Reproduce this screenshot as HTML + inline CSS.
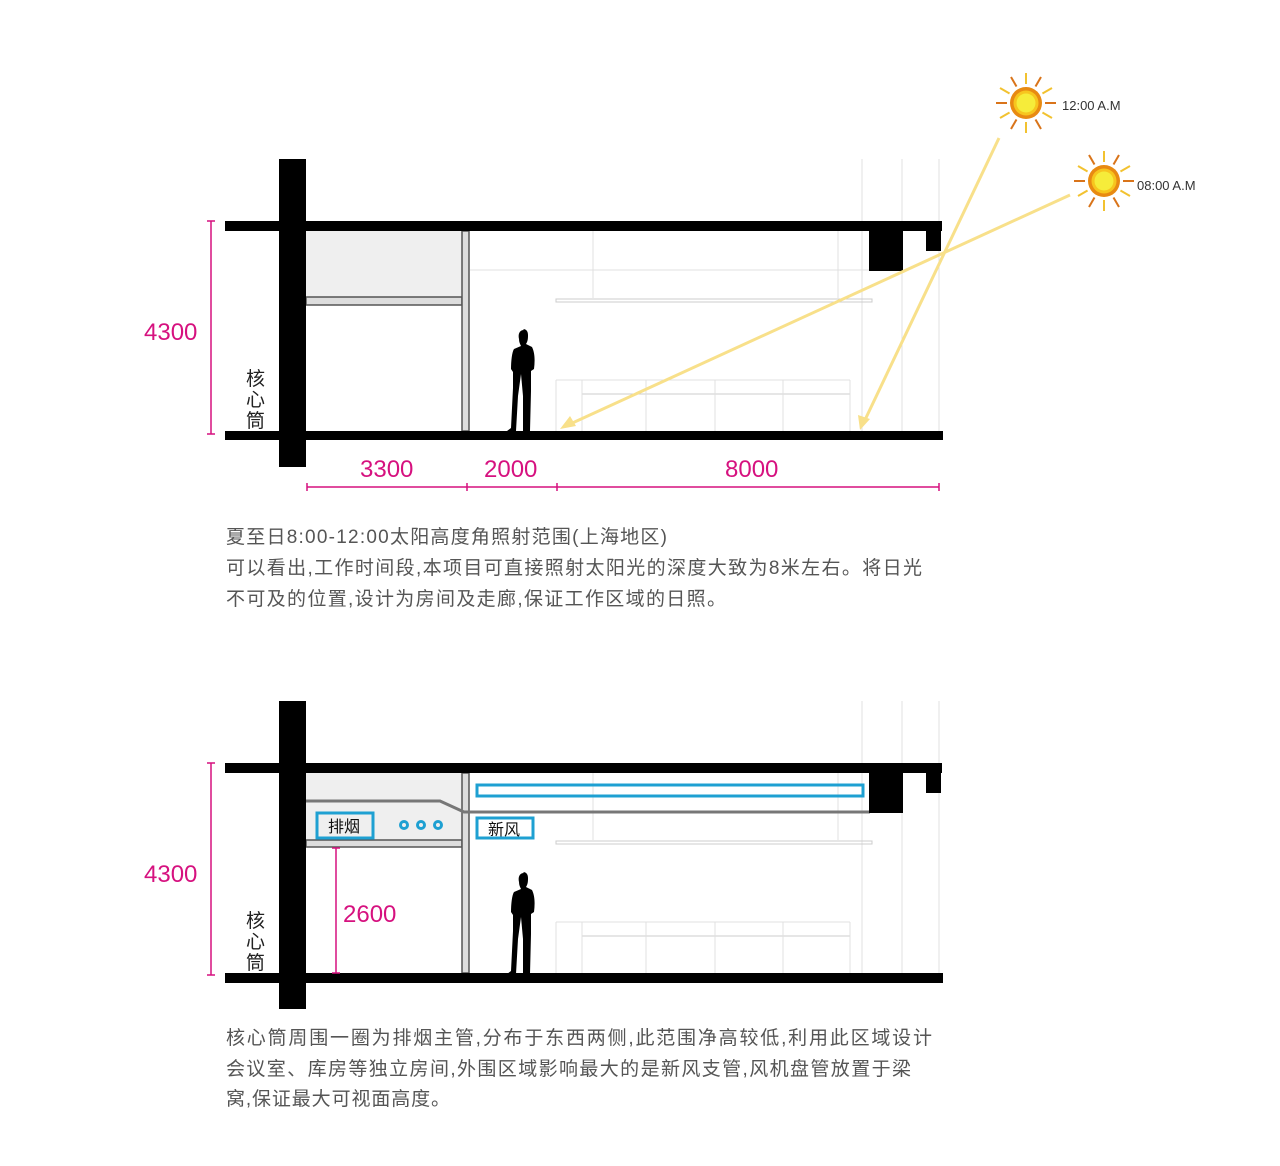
<!DOCTYPE html>
<html><head><meta charset="utf-8"><style>
html,body{margin:0;padding:0;background:#fff;width:1280px;height:1166px;overflow:hidden}
svg{display:block}
.t{font-family:"Liberation Sans","Noto Sans CJK SC",sans-serif}
</style></head><body>
<svg width="1280" height="1166" viewBox="0 0 1280 1166" xmlns="http://www.w3.org/2000/svg">
<defs>
<g id="ray"><line x1="0" y1="-19" x2="0" y2="-30" stroke-width="2"/></g>
<g id="sun">
<g stroke="#f2c230"><use href="#ray"/><use href="#ray" transform="rotate(60)"/><use href="#ray" transform="rotate(120)"/><use href="#ray" transform="rotate(180)"/><use href="#ray" transform="rotate(240)"/><use href="#ray" transform="rotate(300)"/></g>
<g stroke="#d9741a"><use href="#ray" transform="rotate(30)"/><use href="#ray" transform="rotate(90)"/><use href="#ray" transform="rotate(150)"/><use href="#ray" transform="rotate(210)"/><use href="#ray" transform="rotate(270)"/><use href="#ray" transform="rotate(330)"/></g>
<circle r="16" fill="#e88a12"/><circle r="12.5" fill="#f7c51e"/><circle r="9.5" fill="#f6ec3a"/>
</g>
<g id="person"><path d="M524,330 c-5,0 -6,5 -5,9 c0,3 1,5 2,7 l-7,3 c-2,3 -3,12 -3,20 l2,3 l0,16 l-2,40 l-4,3 l9,0 l2,-35 l3,-22 l2,22 l0,35 l7,0 l1,-40 l0,-20 l3,-2 c1,-8 1,-16 -2,-22 l-6,-3 c2,-3 2,-6 2,-9 c0,-4 -2,-6 -5,-6z" fill="#000"/></g>
<g id="sketch" stroke="#e0e0e0" fill="none" stroke-width="1">
<line x1="862" y1="159" x2="862" y2="431"/><line x1="902" y1="159" x2="902" y2="431"/><line x1="939" y1="159" x2="939" y2="431"/>
<line x1="470" y1="270" x2="870" y2="270"/><line x1="593" y1="231" x2="593" y2="298"/><line x1="838" y1="231" x2="838" y2="298"/>
<rect x="556" y="299" width="316" height="3" stroke="#ccc"/>
<line x1="556" y1="380" x2="850" y2="380"/><line x1="556" y1="380" x2="556" y2="431"/><line x1="582" y1="394" x2="850" y2="394" stroke="#ccc"/>
<line x1="582" y1="380" x2="582" y2="431"/><line x1="646" y1="380" x2="646" y2="431"/><line x1="715" y1="380" x2="715" y2="431"/><line x1="783" y1="380" x2="783" y2="431"/><line x1="850" y1="380" x2="850" y2="431"/>
</g>
</defs>

<use href="#sketch"/>
<rect x="306" y="231" width="156" height="66" fill="#efefef"/>
<rect x="306" y="297" width="156" height="8" fill="#ddd" stroke="#555" stroke-width="1.5"/>
<rect x="462" y="231" width="7" height="200" fill="#ddd" stroke="#555" stroke-width="1.5"/>
<rect x="225" y="221" width="717" height="10" fill="#000"/>
<rect x="225" y="431" width="718" height="9" fill="#000"/>
<rect x="279" y="159" width="27" height="308" fill="#000"/>
<rect x="869" y="231" width="34" height="40" fill="#000"/>
<rect x="926" y="231" width="15" height="20" fill="#000"/>
<use href="#person"/>
<g stroke="#f8e08a" stroke-width="3" fill="none">
<line x1="999" y1="138" x2="864" y2="422"/><line x1="1070" y1="195" x2="568" y2="425"/>
</g>
<polygon points="860,430 858,415 870,419" fill="#f8e08a"/>
<polygon points="560,429 570,416 576,426" fill="#f8e08a"/>
<use href="#sun" transform="translate(1026,103)"/>
<use href="#sun" transform="translate(1104,181)"/>
<text class="t" x="1062" y="110" font-size="13" fill="#333">12:00 A.M</text>
<text class="t" x="1137" y="190" font-size="13" fill="#333">08:00 A.M</text>
<g stroke="#d6117f" stroke-width="1.5">
<line x1="211" y1="221" x2="211" y2="434"/><line x1="207" y1="221" x2="215" y2="221"/><line x1="207" y1="434" x2="215" y2="434"/>
<line x1="307" y1="487" x2="939" y2="487"/>
<line x1="307" y1="483" x2="307" y2="491"/><line x1="467" y1="483" x2="467" y2="491"/><line x1="557" y1="483" x2="557" y2="491"/><line x1="939" y1="483" x2="939" y2="491"/>
</g>
<g class="t" fill="#d6117f" font-size="24">
<text x="144" y="340">4300</text>
<text x="360" y="477">3300</text><text x="484" y="477">2000</text><text x="725" y="477">8000</text>
</g>
<g class="t" font-size="19" fill="#222"><text x="246" y="385">核</text><text x="246" y="406">心</text><text x="246" y="427">筒</text></g>
<g class="t" font-size="19" fill="#555">
<text x="226" y="543" textLength="441" lengthAdjust="spacing">夏至日8:00-12:00太阳高度角照射范围(上海地区)</text>
<text x="226" y="574" textLength="696" lengthAdjust="spacing">可以看出,工作时间段,本项目可直接照射太阳光的深度大致为8米左右。将日光</text>
<text x="226" y="605" textLength="500" lengthAdjust="spacing">不可及的位置,设计为房间及走廊,保证工作区域的日照。</text>
</g>

<use href="#sketch" transform="translate(0,542)"/>
<rect x="306" y="773" width="156" height="67" fill="#efefef"/>
<rect x="306" y="840" width="156" height="7" fill="#ddd" stroke="#555" stroke-width="1.5"/>
<rect x="462" y="773" width="7" height="200" fill="#ddd" stroke="#555" stroke-width="1.5"/>
<polyline points="306,801 440,801 464,812 870,812" fill="none" stroke="#777" stroke-width="3"/>
<rect x="225" y="763" width="717" height="10" fill="#000"/>
<rect x="225" y="973" width="718" height="10" fill="#000"/>
<rect x="279" y="701" width="27" height="308" fill="#000"/>
<rect x="869" y="773" width="34" height="40" fill="#000"/>
<rect x="926" y="773" width="15" height="20" fill="#000"/>
<use href="#person" transform="translate(0,543)"/>
<g fill="none" stroke="#1ea0d2" stroke-width="3">
<rect x="317" y="813" width="56" height="25"/>
<rect x="477" y="785" width="386" height="11"/>
<rect x="477" y="818" width="56" height="20"/>
<circle cx="404" cy="825" r="3.5"/><circle cx="421" cy="825" r="3.5"/><circle cx="438" cy="825" r="3.5"/>
</g>
<g class="t" font-size="16" fill="#111"><text x="328" y="832">排烟</text><text x="488" y="835">新风</text></g>
<g stroke="#d6117f" stroke-width="1.5">
<line x1="211" y1="763" x2="211" y2="975"/><line x1="207" y1="763" x2="215" y2="763"/><line x1="207" y1="975" x2="215" y2="975"/>
<line x1="336" y1="848" x2="336" y2="973"/><line x1="332" y1="848" x2="340" y2="848"/><line x1="332" y1="973" x2="340" y2="973"/>
</g>
<g class="t" fill="#d6117f" font-size="24"><text x="144" y="882">4300</text><text x="343" y="922">2600</text></g>
<g class="t" font-size="19" fill="#222"><text x="246" y="927">核</text><text x="246" y="948">心</text><text x="246" y="969">筒</text></g>
<g class="t" font-size="19" fill="#555">
<text x="226" y="1044" textLength="706" lengthAdjust="spacing">核心筒周围一圈为排烟主管,分布于东西两侧,此范围净高较低,利用此区域设计</text>
<text x="226" y="1075" textLength="685" lengthAdjust="spacing">会议室、库房等独立房间,外围区域影响最大的是新风支管,风机盘管放置于梁</text>
<text x="226" y="1105" textLength="224" lengthAdjust="spacing">窝,保证最大可视面高度。</text>
</g>
</svg>
</body></html>
